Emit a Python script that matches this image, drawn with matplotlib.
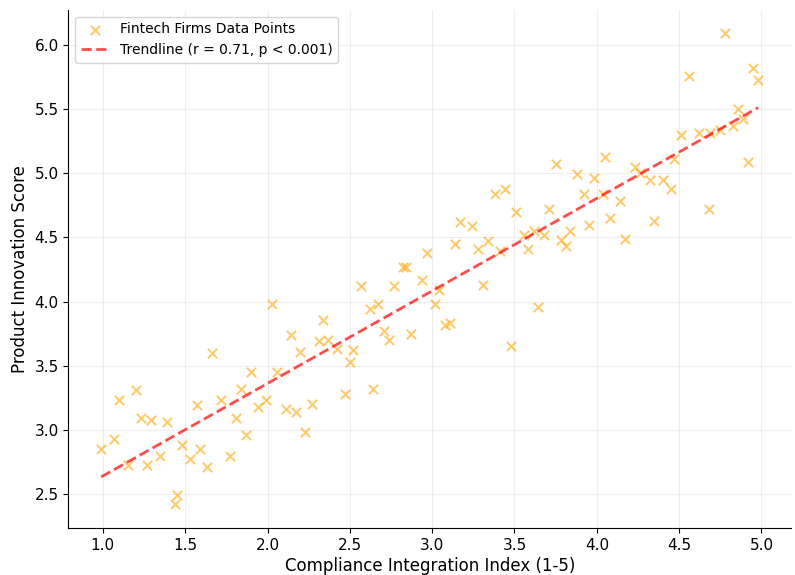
import numpy as np
import matplotlib
matplotlib.use("Agg")
import matplotlib.pyplot as plt

compliance_index = [
    0.99, 1.07, 1.10, 1.15, 1.20, 1.23, 1.27, 1.29, 1.35, 1.39, 1.45, 1.44, 1.48, 1.53,
    1.57, 1.59, 1.63, 1.66, 1.72, 1.77, 1.81, 1.84, 1.87, 1.90, 1.94, 1.99, 2.03,
    2.06, 2.11, 2.17, 2.20, 2.23, 2.27, 2.14, 2.31, 2.34, 2.37, 2.42, 2.47, 2.50, 2.52,
    2.57, 2.62, 2.64, 2.67, 2.71, 2.74, 2.77, 2.82, 2.84, 2.87, 2.94, 2.97, 3.02, 3.04,
    3.08, 3.11, 3.14,
    3.17, 3.24, 3.28, 3.31, 3.34, 3.38, 3.41, 3.44, 3.48, 3.51, 3.56, 3.58, 3.62, 3.64,
    3.68, 3.71, 3.75, 3.78, 3.81, 3.84, 3.88, 3.92, 3.95, 3.98, 4.04, 4.05, 4.08, 4.14,
    4.17,
    4.23, 4.26, 4.32, 4.35, 4.40, 4.45, 4.47, 4.51, 4.56, 4.62, 4.68, 4.69, 4.75, 4.78,
    4.83, 4.86, 4.89, 4.92, 4.95, 4.98,
]
innovation_score = [
    2.85, 2.93, 3.23, 2.73, 3.31, 3.09, 2.73, 3.08, 2.80, 3.06, 2.49, 2.42, 2.88, 2.77,
    3.19, 2.85, 2.71, 3.60, 3.23, 2.80, 3.09, 3.32, 2.96, 3.45, 3.18, 3.23, 3.98,
    3.45, 3.16, 3.14, 3.61, 2.98, 3.20, 3.74, 3.69, 3.86, 3.70, 3.63, 3.28, 3.53, 3.62,
    4.12, 3.94, 3.32, 3.98, 3.77, 3.70, 4.12, 4.27, 4.27, 3.75, 4.17, 4.38, 3.98, 4.09,
    3.82, 3.83, 4.45,
    4.62, 4.59, 4.41, 4.13, 4.47, 4.84, 4.39, 4.88, 3.65, 4.70, 4.52, 4.41, 4.55, 3.96,
    4.52, 4.72, 5.07, 4.48, 4.43, 4.55, 4.99, 4.84, 4.60, 4.96, 4.84, 5.13, 4.65, 4.78,
    4.49,
    5.05, 5.00, 4.95, 4.63, 4.95, 4.88, 5.11, 5.30, 5.76, 5.31, 4.72, 5.31, 5.34, 6.09,
    5.37, 5.50, 5.42, 5.09, 5.82, 5.73,
]

scatter_label = "Fintech Firms Data Points"
trend_label = "Trendline (r = 0.71, p < 0.001)"
x_label = "Compliance Integration Index (1-5)"
y_label = "Product Innovation Score"

x = np.array(compliance_index)
y = np.array(innovation_score)

fig, ax = plt.subplots(figsize=(7.95, 5.75), dpi=100)
fig.subplots_adjust(left=0.086, right=0.995, top=0.983, bottom=0.082)

ax.scatter(x, y, marker="x", color="orange", alpha=0.6, s=45, linewidths=1.4,
           label=scatter_label, zorder=2)

slope, intercept = np.polyfit(x, y, 1)
xs = np.linspace(x.min(), x.max(), 100)
ax.plot(xs, slope * xs + intercept, color="red", linestyle="--", linewidth=2,
        alpha=0.7, label=trend_label, zorder=3)

ax.set_xlabel(x_label, fontsize=12, labelpad=3)
ax.set_ylabel(y_label, fontsize=12, labelpad=4)
ax.set_xticks([1.0, 1.5, 2.0, 2.5, 3.0, 3.5, 4.0, 4.5, 5.0])
ax.set_yticks([2.5, 3.0, 3.5, 4.0, 4.5, 5.0, 5.5, 6.0])
ax.tick_params(labelsize=11)
ax.grid(True, color="#e8e8e8", linewidth=0.8, alpha=0.7)
ax.set_axisbelow(True)
ax.spines["top"].set_visible(False)
ax.spines["right"].set_visible(False)
ax.legend(loc="upper left", fontsize=10, framealpha=0.8)

fig.savefig("out.png", dpi=100)
